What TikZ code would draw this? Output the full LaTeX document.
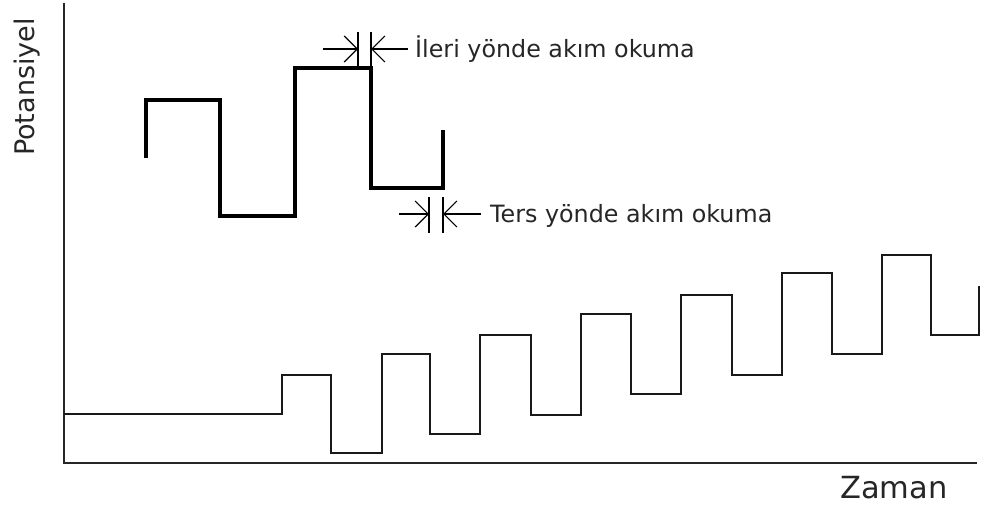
\documentclass[tikz,border=0pt]{standalone}
\usepackage{fontspec}
\setmainfont{DejaVu Sans}
\usetikzlibrary{arrows.meta}
\begin{document}
\begin{tikzpicture}[x=1pt,y=-1pt,
  axisline/.style={line width=2pt,draw=black!85},
  stair/.style={line width=2pt,draw=black!90,line join=miter},
  wave/.style={line width=3.6pt,draw=black,line join=miter},
  tick/.style={line width=1.4pt,draw=black},
  dimarrow/.style={line width=1.2pt,draw=black,-{Straight Barb[length=13pt,width=26pt]}},
  lbl/.style={inner sep=0pt,anchor=west,font=\fontsize{23.8}{28}\selectfont,text=black!85}]
\useasboundingbox (0,0) rectangle (981,507);
% axes
\draw[axisline] (64,3) -- (64,463) -- (977,463);
% staircase
\draw[stair] (64,414) -- (282,414) -- (282,375) -- (331,375) -- (331,453) -- (382,453)
  -- (382,354) -- (430,354) -- (430,434) -- (480,434) -- (480,335) -- (531,335)
  -- (531,415) -- (581,415) -- (581,314) -- (631,314) -- (631,394) -- (681,394)
  -- (681,295) -- (732,295) -- (732,375) -- (782,375) -- (782,273) -- (832,273)
  -- (832,354) -- (882,354) -- (882,255) -- (931,255) -- (931,335) -- (979,335) -- (979,286);
% top waveform
\draw[wave] (146,158) -- (146,100) -- (220,100) -- (220,216) -- (295,216) -- (295,68)
  -- (371,68) -- (371,188) -- (443,188) -- (443,130);
% upper marker
\coordinate (u1t) at (358,32); \coordinate (u1b) at (358,68);
\coordinate (u2t) at (371,32); \coordinate (u2b) at (371,68);
\coordinate (ua) at (323,49); \coordinate (ua2) at (358,49);
\coordinate (ub) at (408,49); \coordinate (ub2) at (371,49);
\draw[tick] (u1t) -- (u1b);
\draw[tick] (u2t) -- (u2b);
\draw[dimarrow] (ua) -- (ua2);
\draw[dimarrow] (ub) -- (ub2);
\node[lbl] (ileri) at (415,49) {İleri yönde akım okuma};
% lower marker
\coordinate (l1t) at (429,197); \coordinate (l1b) at (429,233);
\coordinate (l2t) at (443,197); \coordinate (l2b) at (443,233);
\coordinate (la) at (399,214); \coordinate (la2) at (429,214);
\coordinate (lb) at (481,214); \coordinate (lb2) at (443,214);
\draw[tick] (l1t) -- (l1b);
\draw[tick] (l2t) -- (l2b);
\draw[dimarrow] (la) -- (la2);
\draw[dimarrow] (lb) -- (lb2);
\node[lbl] (ters) at (490,216) {Ters yönde akım okuma};
% axis labels
\node[inner sep=0pt,rotate=90,font=\fontsize{27}{32}\selectfont,text=black!85] (pot) at (27,87) {Potansiyel};
\node[inner sep=0pt,font=\fontsize{30.5}{36}\selectfont,text=black!85] (zaman) at (894,488) {Zaman};
\end{tikzpicture}
\end{document}
